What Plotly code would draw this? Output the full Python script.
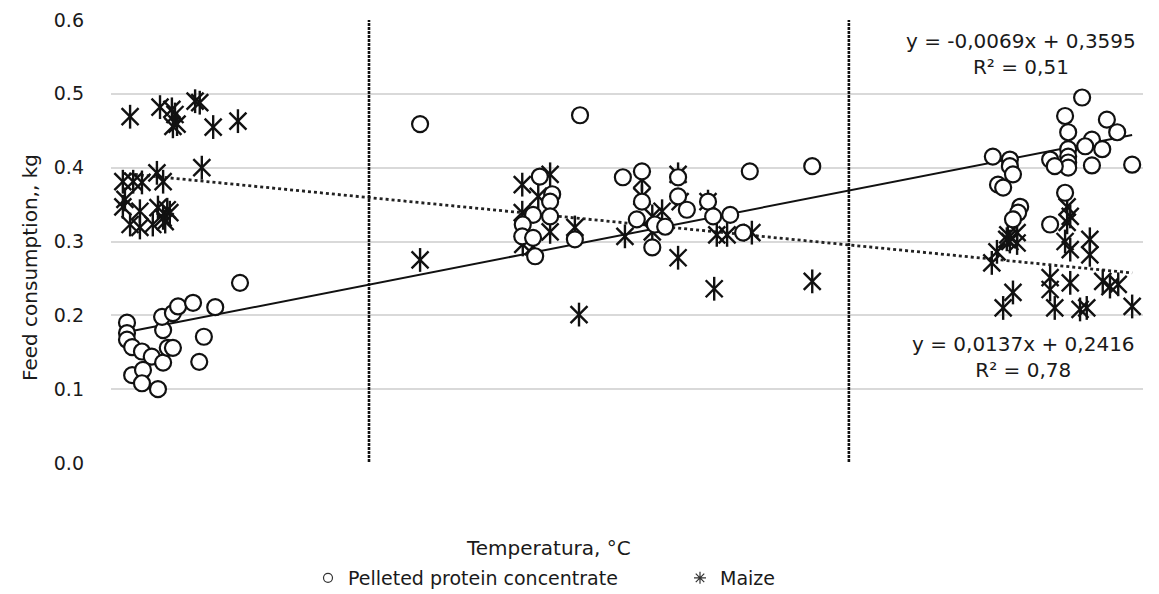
import plotly.graph_objects as go

# ---- data ----
pellet_x = [-4.69, -4.69, -4.69, -4.59, -4.40, -4.21, -3.99, -3.90, -3.80, -3.99, -4.01, -3.80, -3.70, -3.41,
            -2.98, -2.50, -3.20, -3.29, -4.59, -4.38, -4.40, -4.09,
            0.99, 4.09, 7.38, 8.59, 3.31, 3.55, 3.51, 3.18, 3.51, 2.98, 2.97, 3.18, 3.22, 3.99,
            4.92, 5.29, 5.99, 5.29, 5.99, 6.16, 6.57, 6.67, 7.00, 5.19, 5.54, 5.74, 5.49, 7.25,
            13.82, 13.49, 14.30, 14.50, 13.55, 14.01, 13.88, 14.21, 13.55, 13.55, 13.55, 13.55, 13.20, 13.29,
            14.01, 14.79, 12.09, 12.42, 12.42, 12.48, 12.19, 12.29, 12.62, 12.58, 12.48, 13.49, 13.20]
pellet_y = [0.190, 0.176, 0.167, 0.157, 0.151, 0.144, 0.136, 0.156, 0.156, 0.180, 0.198, 0.203, 0.212, 0.217,
            0.211, 0.244, 0.171, 0.137, 0.119, 0.126, 0.108, 0.100,
            0.459, 0.471, 0.395, 0.402, 0.388, 0.364, 0.354, 0.336, 0.334, 0.323, 0.307, 0.305, 0.280, 0.303,
            0.387, 0.395, 0.387, 0.354, 0.361, 0.343, 0.354, 0.334, 0.336, 0.330, 0.323, 0.320, 0.292, 0.312,
            0.495, 0.470, 0.465, 0.448, 0.448, 0.438, 0.429, 0.425, 0.425, 0.415, 0.407, 0.400, 0.411, 0.402,
            0.403, 0.404, 0.415, 0.411, 0.402, 0.391, 0.377, 0.373, 0.347, 0.339, 0.330, 0.366, 0.323]

maize_x = [-4.63, -4.05, -3.82, -3.37, -3.28, -3.76, -3.72, -3.80, -3.02, -2.54, -3.24, -4.11, -4.77, -4.57,
           -4.40, -3.99, -4.73, -4.77, -4.44, -4.09, -3.91, -3.86, -4.63, -4.44, -4.19, -3.95, -3.99,
           0.99, 4.07, 5.99, 6.69, 8.59, 2.97, 3.51, 3.28, 2.97, 3.51, 2.98, 3.18, 3.99, 4.96,
           5.29, 5.99, 5.29, 6.03, 5.68, 6.57, 5.49, 5.49, 6.74, 6.94, 7.42,
           12.38, 12.56, 12.42, 12.17, 12.07, 13.49, 13.97, 13.59, 13.97, 12.48, 12.29, 13.20, 13.20,
           13.59, 13.29, 13.78, 13.91, 14.22, 14.36, 14.52, 14.79, 13.53, 13.59, 13.53, 12.56, 12.36]
maize_y = [0.469, 0.482, 0.479, 0.490, 0.488, 0.472, 0.459, 0.456, 0.455, 0.463, 0.400, 0.393, 0.381, 0.381,
           0.380, 0.381, 0.357, 0.347, 0.341, 0.346, 0.343, 0.339, 0.323, 0.319, 0.323, 0.327, 0.332,
           0.275, 0.201, 0.278, 0.236, 0.246, 0.377, 0.391, 0.361, 0.339, 0.313, 0.296, 0.293, 0.319, 0.307,
           0.384, 0.391, 0.361, 0.354, 0.341, 0.354, 0.334, 0.313, 0.309, 0.309, 0.312,
           0.309, 0.298, 0.300, 0.286, 0.271, 0.300, 0.303, 0.289, 0.282, 0.231, 0.210, 0.251, 0.235,
           0.244, 0.210, 0.208, 0.210, 0.246, 0.239, 0.242, 0.212, 0.347, 0.334, 0.326, 0.312, 0.303]

# trend line coefficients as printed on the chart
pellet_slope, pellet_icpt = 0.0137, 0.2416
maize_slope, maize_icpt = -0.0069, 0.3595
divider_x = [0, 9.3]
y_ticks = [0.0, 0.1, 0.2, 0.3, 0.4, 0.5, 0.6]

FONT = "DejaVu Sans"
INK = "#111111"
TXT = "#1a1a1a"
fig = go.Figure()

# trend lines
px0, px1 = min(pellet_x), max(pellet_x)
mx0, mx1 = min(maize_x), max(maize_x)
fig.add_trace(go.Scatter(x=[px0, px1], y=[pellet_slope * px0 + pellet_icpt, pellet_slope * px1 + pellet_icpt],
                         mode="lines", line=dict(color=INK, width=2), showlegend=False, hoverinfo="skip"))
fig.add_trace(go.Scatter(x=[mx0, mx1], y=[maize_slope * mx0 + maize_icpt, maize_slope * mx1 + maize_icpt],
                         mode="lines", line=dict(color="#222222", width=2.8, dash="dot"), showlegend=False,
                         hoverinfo="skip"))

# maize (asterisk = X plus vertical bar)
fig.add_trace(go.Scatter(x=maize_x, y=maize_y, mode="markers", showlegend=False,
                         marker=dict(symbol="x-thin-open", size=17, color=INK, line=dict(color=INK, width=2.4))))
fig.add_trace(go.Scatter(x=maize_x, y=maize_y, mode="markers", showlegend=False,
                         marker=dict(symbol="line-ns-open", size=17, color=INK, line=dict(color=INK, width=2.4))))
# pellets
fig.add_trace(go.Scatter(x=pellet_x, y=pellet_y, mode="markers", showlegend=False,
                         marker=dict(symbol="circle", size=16, color="white",
                                     line=dict(color=INK, width=2.2))))

# legend entries (two legends so their spacing matches the reference)
fig.add_trace(go.Scatter(x=[None], y=[None], mode="markers", name="Pelleted protein concentrate",
                         legend="legend",
                         marker=dict(symbol="circle", size=9, color="white", line=dict(color="#333", width=1.2))))
fig.add_trace(go.Scatter(x=[None], y=[None], mode="markers", name="Maize", legend="legend2",
                         marker=dict(symbol="asterisk-open", size=10, color="#333",
                                     line=dict(color="#333", width=1.2))))

# vertical dividers
for dx in divider_x:
    fig.add_shape(type="line", x0=dx, x1=dx, y0=-0.004, y1=0.6, xref="x", yref="y",
                  line=dict(color=INK, width=2.6, dash="3px,1px"))

# equations (positions relative to the plot area)
eq_font = dict(family=FONT, size=20, color=TXT)
fig.add_annotation(x=(1021 - 111) / 1032, y=(463 - 54) / 443, xref="paper", yref="paper",
                   text="y = -0,0069x + 0,3595<br>R² = 0,51", showarrow=False, font=eq_font,
                   xanchor="center", yanchor="middle", align="center")
fig.add_annotation(x=(1023 - 111) / 1032, y=(463 - 357) / 443, xref="paper", yref="paper",
                   text="y = 0,0137x + 0,2416<br>R² = 0,78", showarrow=False, font=eq_font,
                   xanchor="center", yanchor="middle", align="center")

# axis titles
fig.add_annotation(x=(548 - 111) / 1032, y=(463 - 548) / 443, xref="paper", yref="paper",
                   text="Temperatura, °C", showarrow=False, font=dict(family=FONT, size=20, color=TXT),
                   xanchor="center", yanchor="middle")
fig.add_annotation(x=(30 - 111) / 1032, y=(463 - 268) / 443, xref="paper", yref="paper",
                   text="Feed consumption,, kg", showarrow=False, textangle=-90,
                   font=dict(family=FONT, size=20, color=TXT), xanchor="center", yanchor="middle")

leg_font = dict(family=FONT, size=19, color=TXT)
# the page adds an 8px body margin, so the figure is shifted by that amount
fig.update_layout(
    width=1159, height=594,
    margin=dict(l=103, r=24, t=12, b=139, autoexpand=False),
    paper_bgcolor="white", plot_bgcolor="white",
    font=dict(family=FONT, color=TXT),
    xaxis=dict(range=[-5, 15], showticklabels=False, showgrid=False, zeroline=False, showline=False,
               ticks=""),
    yaxis=dict(range=[0, 0.6], tickvals=y_ticks, tickformat=".1f", showgrid=True, gridcolor="#d9d9d9",
               gridwidth=1.5, zeroline=False, showline=False, ticks="", ticklabelstandoff=26,
               tickfont=dict(family=FONT, size=19, color=TXT)),
    legend=dict(orientation="h", x=(308 - 111) / 1032, xanchor="left", y=(463 - 578) / 443,
                yanchor="middle", font=leg_font, itemwidth=30, bgcolor="rgba(0,0,0,0)"),
    legend2=dict(orientation="h", x=(680 - 111) / 1032, xanchor="left", y=(463 - 578) / 443,
                 yanchor="middle", font=leg_font, itemwidth=30, bgcolor="rgba(0,0,0,0)"),
    showlegend=True,
)

fig.write_html("out.html")
